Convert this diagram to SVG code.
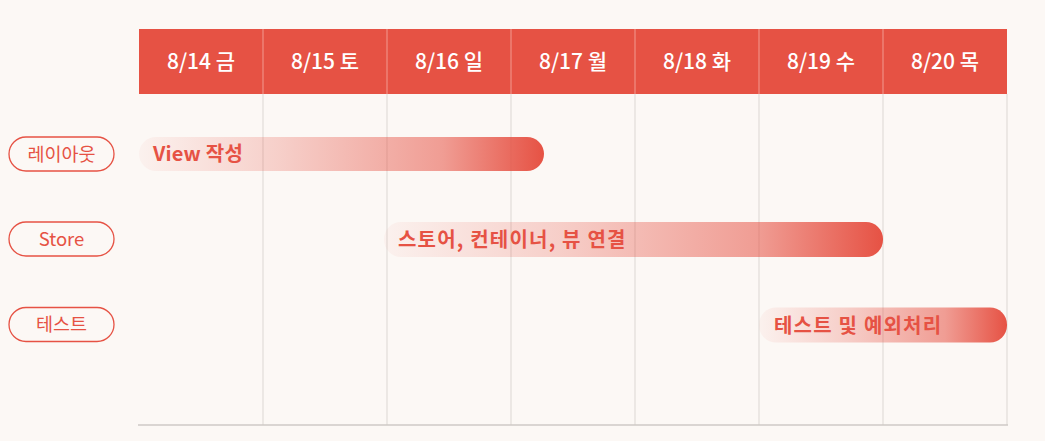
<svg xmlns="http://www.w3.org/2000/svg" width="1045" height="441" viewBox="0 0 1045 441">
<style>
.hdr{font-family:"Noto Sans CJK KR","Noto Sans",sans-serif;font-size:21px;font-weight:500;fill:#ffffff;text-anchor:middle}
.lbl{font-family:"Noto Sans CJK KR","Noto Sans",sans-serif;font-size:18.5px;fill:#E65244;text-anchor:middle}
.bt{font-family:"Noto Sans CJK KR","Noto Sans",sans-serif;font-size:20px;font-weight:700;fill:#E65244;letter-spacing:1.2px}
.grid{stroke:#dcd7d3;stroke-width:1}
.sep{stroke:#f29a90;stroke-width:1}
.pill{fill:#fcf8f5;stroke:#E65244;stroke-width:1.3}
</style>
<defs>
<linearGradient id="g" x1="0" y1="0" x2="1" y2="0">
<stop offset="0" stop-color="#E65244" stop-opacity="0.04"/>
<stop offset="0.35" stop-color="#E65244" stop-opacity="0.25"/>
<stop offset="0.75" stop-color="#E65244" stop-opacity="0.55"/>
<stop offset="1" stop-color="#E65244" stop-opacity="1"/>
</linearGradient>
</defs>
<rect width="1045" height="441" fill="#fcf8f5"/>
<g id="grid">
<line class="grid" x1="263" y1="94" x2="263" y2="425"/>
<line class="grid" x1="387" y1="94" x2="387" y2="425"/>
<line class="grid" x1="511" y1="94" x2="511" y2="425"/>
<line class="grid" x1="635" y1="94" x2="635" y2="425"/>
<line class="grid" x1="759" y1="94" x2="759" y2="425"/>
<line class="grid" x1="883" y1="94" x2="883" y2="425"/>
<line class="grid" x1="1007" y1="94" x2="1007" y2="425"/>
<line x1="138" y1="425" x2="1008" y2="425" stroke="#cfcac6" stroke-width="1.5"/>
</g>
<g id="header">
<rect x="139" y="29" width="868" height="65" fill="#E65244"/>
<line class="sep" x1="263" y1="29" x2="263" y2="94"/>
<line class="sep" x1="387" y1="29" x2="387" y2="94"/>
<line class="sep" x1="511" y1="29" x2="511" y2="94"/>
<line class="sep" x1="635" y1="29" x2="635" y2="94"/>
<line class="sep" x1="759" y1="29" x2="759" y2="94"/>
<line class="sep" x1="883" y1="29" x2="883" y2="94"/>
<text class="hdr" x="201" y="69">8/14 금</text>
<text class="hdr" x="325" y="69">8/15 토</text>
<text class="hdr" x="449" y="69">8/16 일</text>
<text class="hdr" x="573" y="69">8/17 월</text>
<text class="hdr" x="697" y="69">8/18 화</text>
<text class="hdr" x="821" y="69">8/19 수</text>
<text class="hdr" x="945" y="69">8/20 목</text>
</g>
<g id="row-layout">
<rect class="pill" x="9" y="137" width="105" height="34" rx="17"/>
<text class="lbl" x="61.5" y="160.5">레이아웃</text>
</g>
<g id="row-store">
<rect class="pill" x="9" y="222" width="105" height="34" rx="17"/>
<text class="lbl" x="61.5" y="245.5">Store</text>
</g>
<g id="row-test">
<rect class="pill" x="9" y="307.5" width="105" height="34" rx="17"/>
<text class="lbl" x="61.5" y="331">테스트</text>
</g>
<g id="bar-view">
<rect x="139" y="137" width="405" height="34" rx="17" fill="url(#g)"/>
<text class="bt" x="153" y="161" style="letter-spacing:0.2px">View 작성</text>
</g>
<g id="bar-store">
<rect x="384" y="222" width="499" height="35" rx="17" fill="url(#g)"/>
<text class="bt" x="398" y="247">스토어, 컨테이너, 뷰 연결</text>
</g>
<g id="bar-test">
<rect x="759" y="307.5" width="248" height="35" rx="17" fill="url(#g)"/>
<text class="bt" x="774" y="332.5">테스트 및 예외처리</text>
</g>
</svg>
